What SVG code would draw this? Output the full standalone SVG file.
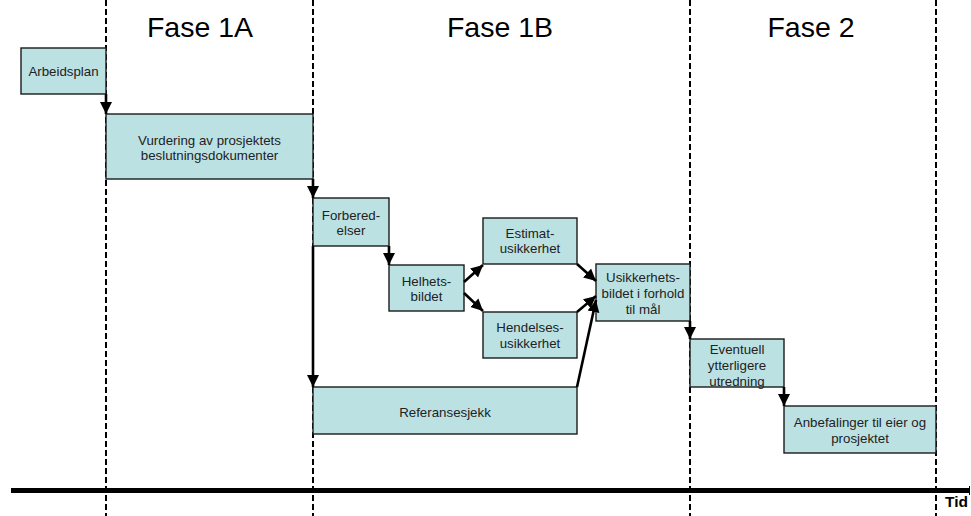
<svg xmlns="http://www.w3.org/2000/svg" width="971" height="516" viewBox="0 0 971 516">
<style>
.phase{stroke:#000;stroke-width:2;stroke-dasharray:6 3;fill:none}
.box{fill:#BCE1E3;stroke:#1a1a1a;stroke-width:1.4}
.t{font-family:"Liberation Sans",Arial,sans-serif;font-size:13.3px;fill:#222;text-anchor:middle}
.h{font-family:"Liberation Sans",Arial,sans-serif;font-size:28.5px;fill:#000;text-anchor:middle}
.c{stroke:#000;stroke-width:2.6;fill:none;marker-end:url(#ah)}
</style>
<defs>
<marker id="ah" markerUnits="userSpaceOnUse" markerWidth="14" markerHeight="14" viewBox="0 0 14 14" refX="12" refY="7" orient="auto">
<path d="M0,1 L12,7 L0,13 Z" fill="#000"/>
</marker>
</defs>
<rect width="971" height="516" fill="#fff"/>
<g id="phases">
<line class="phase" x1="106" y1="0" x2="106" y2="516"/>
<line class="phase" x1="313" y1="0" x2="313" y2="516"/>
<line class="phase" x1="690" y1="0" x2="690" y2="516"/>
<line class="phase" x1="936" y1="0" x2="936" y2="516"/>
<text class="h" x="200" y="37">Fase 1A</text>
<text class="h" x="500" y="37">Fase 1B</text>
<text class="h" x="811" y="37">Fase 2</text>
</g>
<g id="timeline">
<line x1="11" y1="490.5" x2="969" y2="490.5" stroke="#000" stroke-width="5"/>
<line x1="969.5" y1="486" x2="969.5" y2="495" stroke="#000" stroke-width="1"/>
<text x="945" y="507" font-family="Liberation Sans,Arial,sans-serif" font-size="15.5" font-weight="bold" fill="#000">Tid</text>
</g>
<g id="arbeidsplan"><rect class="box" x="21" y="48" width="85" height="46"/><text class="t" x="63.5" y="75.5">Arbeidsplan</text></g>
<g id="vurdering"><rect class="box" x="106" y="114" width="207" height="65"/><text class="t" x="209.5" y="144.5">Vurdering av prosjektets</text><text class="t" x="209.5" y="159.5">beslutningsdokumenter</text></g>
<g id="forberedelser"><rect class="box" x="313" y="198" width="76" height="48"/><text class="t" x="351" y="219.5">Forbered-</text><text class="t" x="351" y="235">elser</text></g>
<g id="helhetsbildet"><rect class="box" x="389" y="265" width="75" height="46"/><text class="t" x="426.5" y="285.5">Helhets-</text><text class="t" x="426.5" y="301">bildet</text></g>
<g id="estimat"><rect class="box" x="483" y="218" width="94" height="46"/><text class="t" x="530" y="237.5">Estimat-</text><text class="t" x="530" y="253">usikkerhet</text></g>
<g id="hendelses"><rect class="box" x="483" y="312" width="94" height="46"/><text class="t" x="530" y="331.5">Hendelses-</text><text class="t" x="530" y="347.5">usikkerhet</text></g>
<g id="usikkerhetsbildet"><rect class="box" x="596" y="264" width="94" height="57"/><text class="t" x="643" y="281.5">Usikkerhets-</text><text class="t" x="643" y="297.5">bildet i forhold</text><text class="t" x="643" y="313.5">til mål</text></g>
<g id="referansesjekk"><rect class="box" x="313" y="387" width="264" height="47"/><text class="t" x="445" y="416.5">Referansesjekk</text></g>
<g id="eventuell"><rect class="box" x="690" y="339" width="94" height="48"/><text class="t" x="737" y="353.5">Eventuell</text><text class="t" x="737" y="369.5">ytterligere</text><text class="t" x="737" y="385.5">utredning</text></g>
<g id="anbefalinger"><rect class="box" x="784" y="406" width="152" height="47"/><text class="t" x="860" y="426.5">Anbefalinger til eier og</text><text class="t" x="860" y="442.5">prosjektet</text></g>
<g id="connectors">
<line class="c" x1="106" y1="94" x2="106" y2="114"/>
<line class="c" x1="313" y1="179" x2="313" y2="198"/>
<line class="c" x1="389" y1="246" x2="389" y2="265"/>
<line class="c" x1="464" y1="282" x2="483" y2="265"/>
<line class="c" x1="464" y1="293" x2="483" y2="311"/>
<line class="c" x1="577" y1="264" x2="596" y2="281"/>
<line class="c" x1="577" y1="312" x2="596" y2="296"/>
<line class="c" x1="577" y1="387" x2="596" y2="300"/>
<line class="c" x1="313" y1="246" x2="313" y2="387"/>
<line class="c" x1="690" y1="321" x2="690" y2="339"/>
<line class="c" x1="784" y1="387" x2="784" y2="406"/>
</g>
</svg>
